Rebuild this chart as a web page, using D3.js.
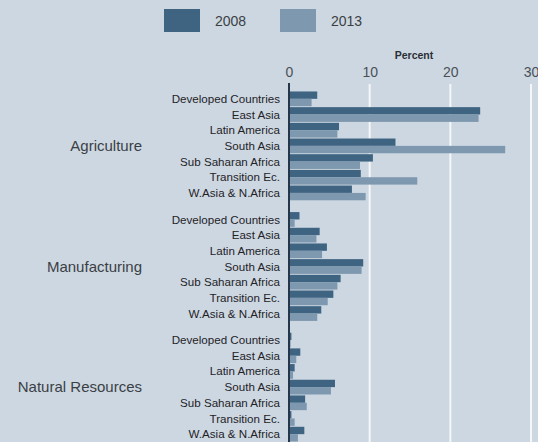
<!DOCTYPE html>
<html>
<head>
<meta charset="utf-8">
<script src="https://cdn.jsdelivr.net/npm/d3@7"></script>
<style>
html,body{margin:0;padding:0;background:#cdd7e1;}
svg{display:block;font-family:"Liberation Sans",Arial,sans-serif;}
</style>
</head>
<body>
<svg id="chart" width="538" height="442"></svg>
<script>
const sectors = ["Agriculture", "Manufacturing", "Natural Resources"];
const regions = ["Developed Countries", "East Asia", "Latin America", "South Asia", "Sub Saharan Africa", "Transition Ec.", "W.Asia & N.Africa"];
const years = ["2008", "2013"];
const agri2008 = [3.5, 23.7, 6.2, 13.2, 10.4, 8.9, 7.8];
const agri2013 = [2.8, 23.5, 6.0, 26.8, 8.8, 15.9, 9.5];
const manu2008 = [1.3, 3.8, 4.7, 9.2, 6.4, 5.5, 4.0];
const manu2013 = [0.7, 3.4, 4.1, 9.0, 6.0, 4.8, 3.5];
const natr2008 = [0.3, 1.4, 0.7, 5.7, 2.0, 0.3, 1.9];
const natr2013 = [0.2, 0.9, 0.5, 5.2, 2.2, 0.7, 1.1];
const xTicks = [0, 10, 20, 30];

const seriesBySector = {
  "Agriculture": [agri2008, agri2013],
  "Manufacturing": [manu2008, manu2013],
  "Natural Resources": [natr2008, natr2013]
};
const colors = d3.scaleOrdinal().domain(years).range(["#3e6482", "#7d98af"]);

const svg = d3.select("#chart");
const x = d3.scaleLinear().domain([0, 30]).range([289, 531]);
const yGroup = d3.scaleBand().domain(sectors).range([91, 442]).paddingInner(0.09).paddingOuter(0);
const yRegion = d3.scaleBand().domain(regions).range([0, yGroup.bandwidth()]).paddingInner(0.06).paddingOuter(0.03);
const yYear = d3.scaleBand().domain(years).range([0, yRegion.bandwidth()]).padding(0);

// gridlines
svg.append("g").selectAll("line").data(xTicks.filter(d => d > 0)).join("line")
  .attr("x1", d => x(d)).attr("x2", d => x(d))
  .attr("y1", 84).attr("y2", 442)
  .attr("stroke", "#f4f6f9").attr("stroke-width", 2);

// legend
const legend = svg.append("g");
const legX = d3.scaleOrdinal().domain(years).range([164, 280]);
years.forEach(yr => {
  legend.append("rect").attr("x", legX(yr)).attr("y", 9).attr("width", 36).attr("height", 23).attr("fill", colors(yr));
  legend.append("text").attr("x", legX(yr) + 51).attr("y", 21).attr("dy", "0.35em")
    .attr("font-size", 14).attr("fill", "#3a3f45").text(yr);
});

// top axis
const axis = svg.append("g").attr("transform", "translate(0,72)")
  .call(d3.axisTop(x).tickValues(xTicks).tickSize(0).tickPadding(0));
axis.select(".domain").remove();
axis.selectAll("text").attr("font-size", 14).attr("fill", "#4a5058").attr("dy", "0.35em")
  .attr("font-family", "Liberation Sans, Arial, sans-serif");
svg.append("text").attr("x", 414).attr("y", 55).attr("dy", "0.35em").attr("text-anchor", "middle")
  .attr("font-size", 10.5).attr("font-weight", "bold").attr("fill", "#2a2f36").text("Percent");

// groups
const groups = svg.append("g").selectAll("g").data(sectors).join("g")
  .attr("transform", s => `translate(0,${yGroup(s)})`);

groups.append("text")
  .attr("x", 142).attr("y", yGroup.bandwidth() / 2).attr("dy", "0.35em").attr("text-anchor", "end")
  .attr("font-size", 15).attr("fill", "#3a3f46").text(s => s);

groups.each(function(s) {
  const g = d3.select(this);
  const rows = g.selectAll("g.row").data(regions).join("g").attr("class", "row")
    .attr("transform", r => `translate(0,${yRegion(r)})`);
  rows.append("text").attr("x", 280).attr("y", yRegion.bandwidth() / 2).attr("dy", "0.35em")
    .attr("text-anchor", "end").attr("font-size", 11.6).attr("fill", "#1e2328").text(r => r);
  years.forEach((yr, yi) => {
    rows.append("rect")
      .attr("x", x(0))
      .attr("y", yYear(yr))
      .attr("height", yYear.bandwidth())
      .attr("width", (r, i) => x(seriesBySector[s][yi][i]) - x(0))
      .attr("fill", colors(yr));
  });
});

// zero axis line
svg.append("line").attr("x1", x(0)).attr("x2", x(0)).attr("y1", 83).attr("y2", 442)
  .attr("stroke", "#25364a").attr("stroke-width", 2);
</script>
</body>
</html>
